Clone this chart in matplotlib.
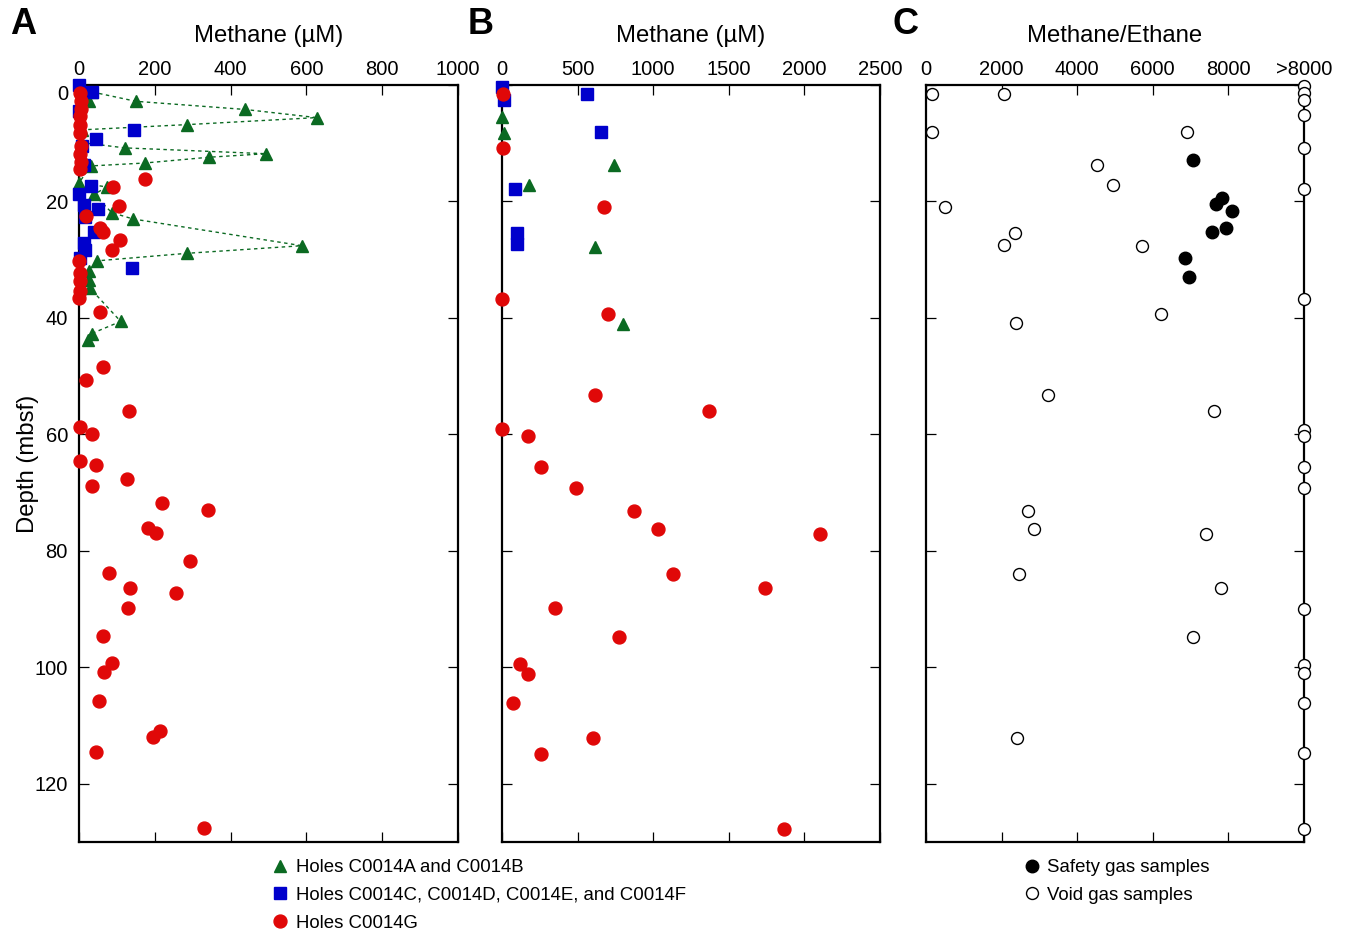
import matplotlib
matplotlib.use("Agg")
import matplotlib.pyplot as plt
from matplotlib.lines import Line2D
import matplotlib.transforms as mtransforms

plt.rcParams['font.family'] = ['Liberation Sans', 'DejaVu Sans']

GREEN = '#0B6A22'
BLUE = '#0000CC'
RED = '#E00808'

# ---------------- Panel A: methane (uM) ----------------
# Holes C0014A/B, connected samples (depth order)
a_tri_line_val = [35, 150, 438, 627, 286, 8, 8, 121, 493, 344, 173, 31, 0, 73, 40,
                  86, 142, 588, 286, 47, 26, 26, 29, 110, 33, 25]
a_tri_line_dep = [1.2, 2.8, 4.2, 5.6, 6.8, 7.7, 9.9, 10.8, 11.8, 12.4, 13.4, 13.9, 16.8, 17.5, 18.8,
                  21.9, 23.0, 27.6, 28.9, 30.2, 32.0, 33.5, 34.9, 40.6, 42.7, 43.8]
# Holes C0014A/B, single samples
a_tri_pt_val = [26]
a_tri_pt_dep = [2.8]

# Holes C0014C-F
a_sq_val = [0, 33, 0, 145, 44, 9, 13, 31, 0, 12, 50, 15, 40, 12, 15, 3, 139]
a_sq_dep = [0.0, 1.2, 4.5, 7.8, 9.3, 10.5, 13.7, 17.4, 18.8, 20.6, 21.3, 22.6, 25.2, 27.2, 28.4, 29.7, 31.4]

# Hole C0014G
a_ci_val = [3, 4, 5, 3, 2, 3, 4, 3, 4, 3,
            173, 90, 106, 18, 55, 64, 107, 86, 0, 2, 3, 2, 0,
            55, 63, 18, 132, 3, 34, 3, 44, 126, 33, 220, 340, 183, 202, 293, 79, 135,
            257, 128, 63, 88, 66, 53, 213, 196, 46, 330]
a_ci_dep = [1.3, 2.8, 4.1, 5.4, 6.8, 8.2, 10.5, 11.8, 13.3, 14.5,
            16.2, 17.6, 20.7, 22.5, 24.5, 25.3, 26.6, 28.3, 30.3, 32.3, 33.6, 35.3, 36.5,
            38.9, 48.5, 50.7, 55.9, 58.8, 59.9, 64.5, 65.3, 67.7, 68.9, 71.8, 72.9, 76.1, 76.9, 81.8, 83.8, 86.3,
            87.2, 89.8, 94.6, 99.3, 100.8, 105.8, 110.9, 112.0, 114.5, 127.6]

# ---------------- Panel B: methane (uM) ----------------
b_tri_val = [0, 15, 738, 179, 617, 798]
b_tri_dep = [5.5, 8.2, 13.8, 17.1, 27.8, 41.1]

b_sq_val = [0, 12, 560, 652, 88, 97, 101]
b_sq_dep = [0.3, 2.5, 1.6, 8.1, 17.9, 25.4, 27.3]

b_ci_val = [4, 4, 676, 0, 700, 612, 1368, 0, 175, 259, 489, 871, 1033, 2103, 1134, 1740,
            353, 776, 119, 170, 75, 603, 257, 1866]
b_ci_dep = [1.6, 10.9, 21.0, 36.7, 39.3, 53.3, 56.0, 59.1, 60.3, 65.6, 69.2, 73.1, 76.3, 77.1, 84.0, 86.4,
            89.8, 94.8, 99.5, 101.1, 106.1, 112.2, 114.9, 127.8]

# ---------------- Panel C: methane/ethane ----------------
C_OVER = 10000  # plotted position of ratios above 8000
c_safety_val = [7063, 7818, 7670, 8108, 7934, 7573, 6860, 6966]
c_safety_dep = [12.9, 19.4, 20.4, 21.7, 24.5, 25.2, 29.7, 32.9]

c_void_val = [167, 2066, 158, 6894, 4530, 4942, 501, 2348, 2066, 5707, 6208, 2375,
              3231, 7617, 2703, 2845, 7398, 2457, 7802, 7073, 2413,
              C_OVER, C_OVER, C_OVER, C_OVER, C_OVER, C_OVER, C_OVER,
              C_OVER, C_OVER, C_OVER, C_OVER, C_OVER, C_OVER, C_OVER, C_OVER, C_OVER, C_OVER]
c_void_dep = [1.6, 1.6, 8.1, 8.1, 13.7, 17.1, 21.0, 25.4, 27.4, 27.7, 39.3, 40.9,
              53.3, 56.0, 73.1, 76.3, 77.1, 84.0, 86.4, 94.8, 112.2,
              0.2, 1.3, 2.6, 5.2, 10.9, 17.8, 36.7,
              59.2, 60.2, 65.6, 69.2, 90.0, 99.6, 101.0, 106.1, 114.8, 127.7]

a_ticks = [0, 200, 400, 600, 800, 1000]
b_ticks = [0, 500, 1000, 1500, 2000, 2500]
c_ticks = [0, 2000, 4000, 6000, 8000, 10000]
c_ticklabels = ['0', '2000', '4000', '6000', '8000', '>8000']
depth_ticks = [0, 20, 40, 60, 80, 100, 120]

W, H = 1348, 934
fig = plt.figure(figsize=(W / 100, H / 100), dpi=100)

def px_axes(left, right, top=85, bottom=842):
    return fig.add_axes([left / W, (H - bottom) / H, (right - left) / W, (bottom - top) / H])

axA = px_axes(79, 458)
axB = px_axes(502, 880)
axC = px_axes(926, 1304)

TICK_FS = 14.5
LABEL_FS = 17.2

for ax in (axA, axB, axC):
    ax.set_ylim(130, 0)
    ax.set_yticks(depth_ticks)
    ax.xaxis.tick_top()
    ax.xaxis.set_label_position('top')
    ax.tick_params(axis='both', which='both', direction='in', length=7, width=0.9,
                   top=True, bottom=True, left=True, right=True,
                   labeltop=True, labelbottom=False, labelleft=False, labelright=False,
                   labelsize=TICK_FS, pad=4)
    for s in ax.spines.values():
        s.set_linewidth(1.6)
    ax.set_facecolor('white')

axA.tick_params(axis='y', labelleft=True, pad=8)

ms_c = 9.3
ms_t = 9.0
ms_s = 8.6

# Panel A
axA.set_xlim(0, 1000)
axA.set_xticks(a_ticks)
axA.plot(a_tri_line_val, a_tri_line_dep, linestyle=(0, (2.5, 2.5)), color=GREEN, lw=1.0,
         marker='^', ms=ms_t, mfc=GREEN, mec=GREEN, clip_on=False, zorder=3)
axA.plot(a_tri_pt_val, a_tri_pt_dep, linestyle='none', marker='^', ms=ms_t, color=GREEN,
         clip_on=False, zorder=3)
axA.plot(a_sq_val, a_sq_dep, linestyle='none', marker='s', ms=ms_s, color=BLUE,
         clip_on=False, zorder=4)
axA.plot(a_ci_val, a_ci_dep, linestyle='none', marker='o', ms=ms_c, color=RED,
         clip_on=False, zorder=5)
axA.set_xlabel('Methane (µM)', fontsize=LABEL_FS, labelpad=13)
axA.set_ylabel('Depth (mbsf)', fontsize=LABEL_FS, labelpad=-3.5)

# keep the depth "0" label clear of the top tick labels
fig.canvas.draw()
zero_lbl = axA.yaxis.get_ticklabels()[0]
zero_lbl.set_transform(zero_lbl.get_transform() +
                       mtransforms.ScaledTranslation(0, -8 / 100, fig.dpi_scale_trans))

# Panel B
axB.set_xlim(0, 2500)
axB.set_xticks(b_ticks)
axB.plot(b_tri_val, b_tri_dep, linestyle='none', marker='^', ms=ms_t, color=GREEN,
         clip_on=False, zorder=3)
axB.plot(b_sq_val, b_sq_dep, linestyle='none', marker='s', ms=ms_s, color=BLUE,
         clip_on=False, zorder=4)
axB.plot(b_ci_val, b_ci_dep, linestyle='none', marker='o', ms=ms_c, color=RED,
         clip_on=False, zorder=5)
axB.set_xlabel('Methane (µM)', fontsize=LABEL_FS, labelpad=13)

# Panel C
axC.set_xlim(0, 10000)
axC.set_xticks(c_ticks)
axC.set_xticklabels(c_ticklabels)
axC.plot(c_void_val, c_void_dep, linestyle='none', marker='o', ms=8.6, mfc='white',
         mec='black', mew=1.0, clip_on=False, zorder=4)
axC.plot(c_safety_val, c_safety_dep, linestyle='none', marker='o', ms=9.0, color='black',
         clip_on=False, zorder=5)
axC.set_xlabel('Methane/Ethane', fontsize=LABEL_FS, labelpad=13)

# Panel letters
for letter, x in (('A', 10), ('B', 468), ('C', 892)):
    fig.text(x / W, 1 - 24 / H, letter, fontsize=26, fontweight='bold', va='center', ha='left')

# Legends
LEG_FS = 13.4
handles_ab = [
    Line2D([], [], linestyle='none', marker='^', ms=ms_t, color=GREEN),
    Line2D([], [], linestyle='none', marker='s', ms=ms_s, color=BLUE),
    Line2D([], [], linestyle='none', marker='o', ms=ms_c, color=RED),
]
labels_ab = ['Holes C0014A and C0014B',
             'Holes C0014C, C0014D, C0014E, and C0014F',
             'Holes C0014G']
fig.legend(handles_ab, labels_ab, loc='upper left', bbox_to_anchor=(271 / W, 1 - 859 / H),
           frameon=False, fontsize=LEG_FS, handlelength=1.0, handletextpad=0.35,
           labelspacing=0.58, borderpad=0, borderaxespad=0)

handles_c = [
    Line2D([], [], linestyle='none', marker='o', ms=9.0, color='black'),
    Line2D([], [], linestyle='none', marker='o', ms=8.6, mfc='white', mec='black', mew=1.0),
]
labels_c = ['Safety gas samples', 'Void gas samples']
fig.legend(handles_c, labels_c, loc='upper left', bbox_to_anchor=(1023 / W, 1 - 859 / H),
           frameon=False, fontsize=LEG_FS, handlelength=1.0, handletextpad=0.3,
           labelspacing=0.58, borderpad=0, borderaxespad=0)

fig.savefig('out.png', dpi=100, facecolor='white')
